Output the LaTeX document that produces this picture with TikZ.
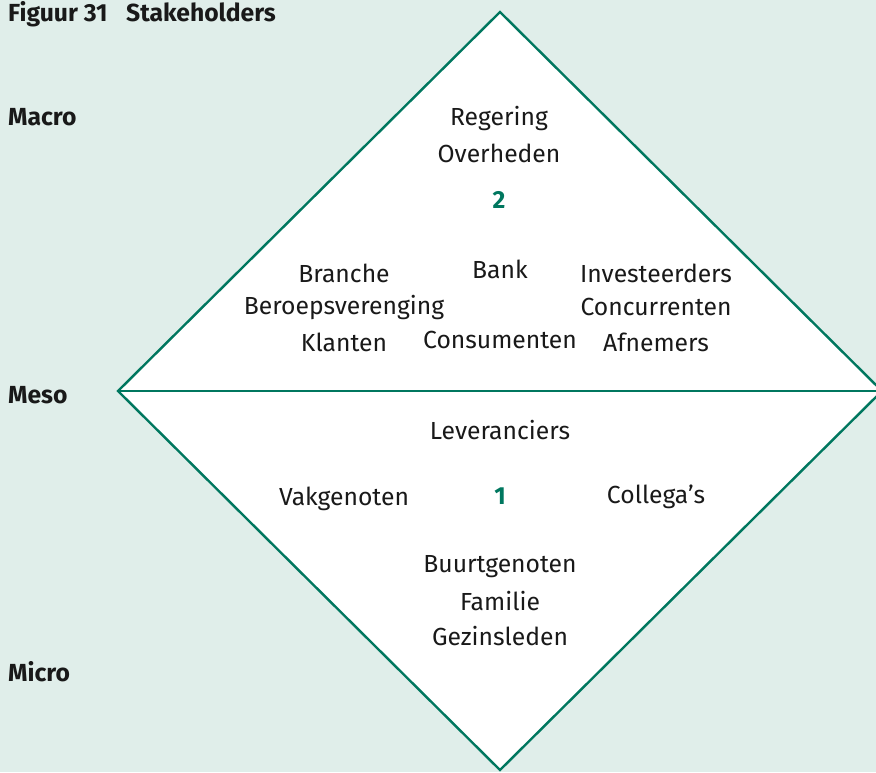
\documentclass[tikz,border=0pt]{standalone}
\usepackage{fontspec}
\setmainfont{Fira Sans}
\definecolor{bgmint}{HTML}{E0EEEA}
\definecolor{teallijn}{HTML}{00775F}
\tikzset{
  lbl/.style={font=\fontsize{24.7}{29}\selectfont, text=black!90, inner sep=0pt},
  niveau/.style={lbl, font=\fontsize{24.7}{29}\selectfont\bfseries, anchor=west},
  nummer/.style={lbl, font=\fontsize{24.7}{29}\selectfont\bfseries, text=teallijn}
}
\begin{document}
\begin{tikzpicture}[x=1pt,y=-1pt]
\fill[bgmint] (0,0) rectangle (876,772);
\useasboundingbox (0,0) rectangle (876,772);
% ruit
\coordinate (boven) at (500,12);
\coordinate (links) at (118,391);
\coordinate (rechts) at (882,391);
\coordinate (onder) at (500,770);
\begin{scope}
\clip (0,0) rectangle (876,772);
\draw[teallijn, line width=2.4pt, fill=white, line join=miter] (boven) -- (rechts) -- (onder) -- (links) -- cycle;
\draw[teallijn, line width=2.4pt] (links) -- (rechts);
\end{scope}
%%%%
\node[niveau] (titel) at (8,14) {Figuur 31\hspace{0.75em}Stakeholders};
\node[niveau] (macro) at (8,117) {Macro};
\node[niveau] (meso) at (8,395) {Meso};
\node[niveau] (micro) at (8,672) {Micro};
%%%%
\node[lbl] (regering) at (499,118) {Regering};
\node[lbl] (overheden) at (499,153) {Overheden};
\node[nummer] (twee) at (499,200) {2};
\node[lbl] (branche) at (344,273) {Branche};
\node[lbl] (bank) at (500,269) {Bank};
\node[lbl] (invest) at (656,273) {Investeerders};
\node[lbl] (beroeps) at (344,307) {Beroepsverenging};
\node[lbl] (concur) at (656,307) {Concurrenten};
\node[lbl] (klanten) at (344,342) {Klanten};
\node[lbl] (consum) at (500,340) {Consumenten};
\node[lbl] (afnemers) at (656,342) {Afnemers};
%%%%
\node[lbl] (lever) at (500,430) {Leveranciers};
\node[lbl] (vak) at (344,499) {Vakgenoten};
\node[nummer] (een) at (500,496) {1};
\node[lbl] (collega) at (656,497) {Collega’s};
\node[lbl] (buurt) at (500,567) {Buurtgenoten};
\node[lbl] (familie) at (500,601) {Familie};
\node[lbl] (gezin) at (500,636) {Gezinsleden};
\end{tikzpicture}
\end{document}
